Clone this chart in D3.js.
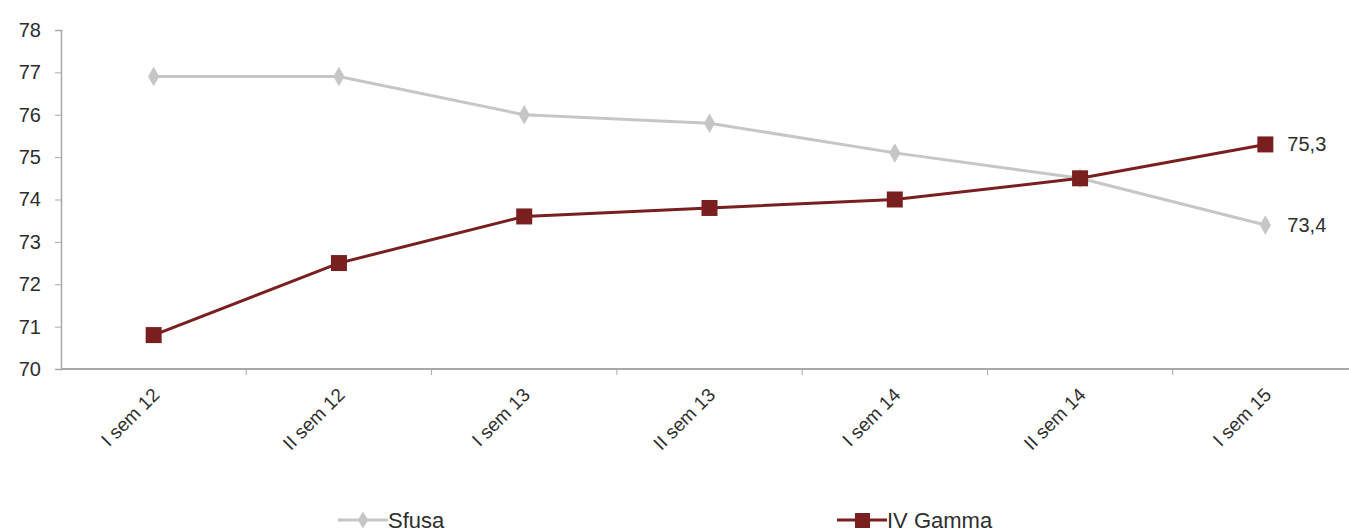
<!DOCTYPE html>
<html>
<head>
<meta charset="utf-8">
<script src="https://cdn.jsdelivr.net/npm/d3@7"></script>
<style>
  html, body { margin: 0; padding: 0; background: #fff; }
  svg { display: block; font-family: "Liberation Sans", Arial, sans-serif; }
</style>
</head>
<body>
<svg id="chart" width="1349" height="532"></svg>
<script>
// Semesters on the x axis
const categories = ["I sem 12", "II sem 12", "I sem 13", "II sem 13", "I sem 14", "II sem 14", "I sem 15"];
// Series values
const sfusa = [76.9, 76.9, 76.0, 75.8, 75.1, 74.5, 73.4];
const ivGamma = [70.8, 72.5, 73.6, 73.8, 74.0, 74.5, 75.3];
// Y axis ticks
const yTicks = [70, 71, 72, 73, 74, 75, 76, 77, 78];
const seriesNames = ["Sfusa", "IV Gamma"];

const svg = d3.select("#chart");
const plotLeft = 61, plotRight = 1358, plotTop = 30, plotBottom = 369;

const x = d3.scaleBand().domain(categories).range([plotLeft, plotRight]);
const y = d3.scaleLinear().domain([70, 78]).range([plotBottom, plotTop]);
const cx = d => x(d) + x.bandwidth() / 2;

const grey = "#c6c6c6";
const red = "#7a1f1f";
const axisColor = "#a8a8a8";
const textColor = "#2e2e2e";

// Y axis
const yAxis = svg.append("g").attr("transform", `translate(${plotLeft},0)`)
  .call(d3.axisLeft(y).tickValues(yTicks).tickSize(6).tickPadding(14).tickFormat(d3.format("d")));
yAxis.select(".domain").attr("stroke", axisColor).attr("stroke-width", 1.5);
yAxis.selectAll(".tick line").attr("stroke", axisColor);
yAxis.selectAll("text").attr("font-size", 20).attr("fill", textColor);

// X axis with ticks between categories
const xAxis = svg.append("g").attr("transform", `translate(0,${plotBottom})`);
xAxis.append("line").attr("x1", plotLeft).attr("x2", plotRight).attr("stroke", axisColor).attr("stroke-width", 2);
xAxis.selectAll("line.tk").data(categories.slice(1)).join("line").attr("class", "tk")
  .attr("x1", d => x(d)).attr("x2", d => x(d)).attr("y1", 0).attr("y2", 6)
  .attr("stroke", axisColor);
xAxis.selectAll("text").data(categories).join("text")
  .attr("transform", d => `translate(${cx(d) + 7},${27}) rotate(-45)`)
  .attr("text-anchor", "end")
  .attr("font-size", 19)
  .attr("fill", textColor)
  .text(d => d);

const line = d3.line().x((d, i) => cx(categories[i])).y(d => y(d));

// Sfusa line with diamond markers
svg.append("path").datum(sfusa).attr("d", line)
  .attr("fill", "none").attr("stroke", grey).attr("stroke-width", 3);
svg.selectAll("path.dia").data(sfusa).join("path").attr("class", "dia")
  .attr("d", d3.symbol(d3.symbolDiamond, 110))
  .attr("transform", (d, i) => `translate(${cx(categories[i])},${y(d)})`)
  .attr("fill", grey);

// IV Gamma line with square markers
svg.append("path").datum(ivGamma).attr("d", line)
  .attr("fill", "none").attr("stroke", red).attr("stroke-width", 3);
svg.selectAll("rect.sq").data(ivGamma).join("rect").attr("class", "sq")
  .attr("x", (d, i) => cx(categories[i]) - 8).attr("y", d => y(d) - 8)
  .attr("width", 16).attr("height", 16)
  .attr("fill", red);

// End labels
const fmt = v => d3.format(".1f")(v).replace(".", ",");
const last = categories.length - 1;
[sfusa, ivGamma].forEach(s => {
  svg.append("text")
    .attr("x", cx(categories[last]) + 22).attr("y", y(s[last]) + 7)
    .attr("font-size", 20).attr("fill", textColor)
    .text(fmt(s[last]));
});

// Legend
const legY = 520;
const lg = svg.append("g");
const legItems = [
  { name: seriesNames[0], x: 338, color: grey, shape: "diamond" },
  { name: seriesNames[1], x: 837, color: red, shape: "square" }
];
legItems.forEach(it => {
  lg.append("line").attr("x1", it.x).attr("x2", it.x + 50).attr("y1", legY).attr("y2", legY)
    .attr("stroke", it.color).attr("stroke-width", 3);
  if (it.shape === "diamond") {
    lg.append("path").attr("d", d3.symbol(d3.symbolDiamond, 90))
      .attr("transform", `translate(${it.x + 25},${legY})`).attr("fill", it.color);
  } else {
    lg.append("rect").attr("x", it.x + 18).attr("y", legY - 7).attr("width", 15).attr("height", 15)
      .attr("fill", it.color);
  }
  lg.append("text").attr("x", it.x + 50).attr("y", legY + 8)
    .attr("font-size", 22).attr("fill", textColor).text(it.name);
});
</script>
</body>
</html>
